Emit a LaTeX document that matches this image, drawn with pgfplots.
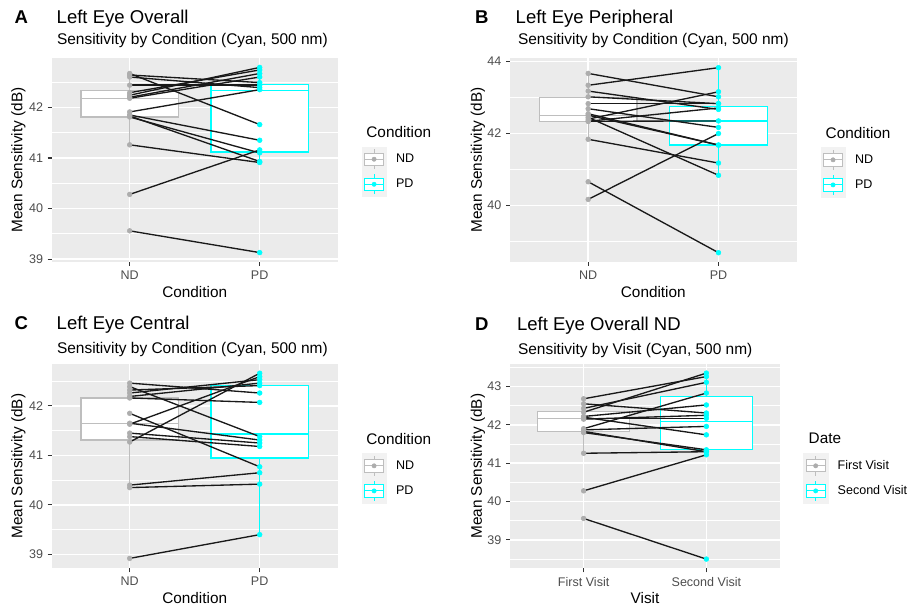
\documentclass[border=0pt]{standalone}
\usepackage{fontspec}
\setmainfont{Liberation Sans}
\usepackage{pgfplots}
\usepackage{pgfplotstable}
\pgfplotsset{compat=1.18}

\definecolor{ggbg}{HTML}{EBEBEB}
\definecolor{ndgrey}{HTML}{BEBEBE}
\definecolor{ndpt}{HTML}{ADADAD}
\definecolor{pdcyan}{HTML}{00FFFF}
\definecolor{tickgrey}{HTML}{4D4D4D}
\definecolor{keybg}{HTML}{F2F2F2}

% paired values, one row per subject
\pgfplotstableread{
nd pd
42.67 41.66
42.64 42.49
42.60 42.39
42.44 42.44
42.29 42.74
42.24 42.79
42.20 42.67
42.18 42.60
41.91 42.35
41.85 41.35
41.83 40.93
41.81 41.10
41.26 40.91
40.28 41.16
39.56 39.13
}\tblA

\pgfplotstableread{
nd pd
43.67 43.02
43.34 43.83
43.18 42.67
43.02 42.83
42.83 42.83
42.69 42.17
42.55 41.68
42.51 41.68
42.45 40.84
42.40 43.16
42.34 42.35
42.34 42.71
41.84 41.18
40.66 38.69
40.17 42.00
}\tblB

\pgfplotstableread{
nd pd
42.46 42.26
42.39 41.38
42.32 42.41
42.26 42.53
42.19 42.46
42.16 42.07
41.85 40.77
41.63 42.59
41.65 41.31
41.27 42.66
41.45 41.25
41.38 41.18
40.40 40.65
40.35 40.42
38.92 39.40
}\tblC

\pgfplotstableread{
nd pd
42.68 43.26
42.55 42.31
42.43 43.11
42.33 43.35
42.22 42.52
42.17 42.17
42.20 41.74
42.15 42.25
41.90 42.83
41.87 41.96
41.83 41.30
41.80 41.35
41.26 41.30
40.28 41.22
39.56 38.50
}\tblD

\newcommand{\keyglyph}[2]{%
  \fill[keybg] (0pt,-9.2pt) rectangle (18.2pt,9.2pt);
  \draw[#1, line width=0.7pt] (9.1pt,-7.4pt) -- (9.1pt,7.4pt);
  \filldraw[draw=#1, fill=white, line width=0.7pt] (1.9pt,-4.6pt) rectangle (16.3pt,4.6pt);
  \draw[#1, line width=0.7pt] (1.9pt,0pt) -- (16.3pt,0pt);
  \fill[#2] (9.1pt,0pt) circle (1.6pt);
}

% box: left, centre, right, lower whisker, q1, median, q3, upper whisker, colour
\newcommand{\ggbox}[9]{%
  \addplot[#9, line width=1pt, forget plot, unbounded coords=jump]
    coordinates {(#2,#4) (#2,#5) (#2,nan) (#2,#7) (#2,#8)};
  \addplot[draw=#9, fill=white, line width=1pt, forget plot]
    coordinates {(#1,#5) (#3,#5) (#3,#7) (#1,#7)} -- cycle;
  \addplot[#9, line width=1pt, forget plot] coordinates {(#1,#6) (#3,#6)};
}

\pgfplotsset{
  ggpanel/.style={
    scale only axis,
    axis background/.style={fill=ggbg},
    axis line style={draw=none},
    xmin=0.4, xmax=2.6,
    xtick={1,2},
    ymajorgrids, yminorgrids, xmajorgrids,
    major grid style={white, line width=1.1pt},
    minor grid style={white, line width=0.55pt},
    tick align=outside, tick pos=left,
    major tick length=3pt, minor tick length=0pt,
    tick style={color=black!80, line width=0.8pt},
    ticklabel style={font=\fontsize{9.4}{11}\selectfont, text=tickgrey},
    /pgf/number format/assume math mode=true,
    legend style={anchor=north west, draw=none, fill=none,
      inner sep=0pt, outer sep=0pt, row sep=0pt,
      font=\fontsize{9.4}{11}\selectfont,
      nodes={inner sep=0pt, anchor=west, text=black},
      /tikz/every odd column/.append style={column sep=7.2pt}},
  },
  ndpts/.style={only marks, mark=*, mark size=1.8pt, mark options={draw=ndpt, fill=ndpt}, forget plot},
  pdpts/.style={only marks, mark=*, mark size=1.8pt, mark options={draw=pdcyan, fill=pdcyan}, forget plot},
  pairs/.style={black!90, line width=1pt, forget plot,
    quiver={u=1, v=\thisrow{pd}-\thisrow{nd}}},
}

\begin{document}
\begin{tikzpicture}
\path[use as bounding box] (0pt,0pt) rectangle (680.25pt,457.5pt);

% ---------- A ----------
\begin{axis}[ggpanel, at={(38.775pt,261.225pt)}, anchor=south west,
  width=214.5pt, height=152.55pt,
  ymin=38.95, ymax=42.97,
  ytick={39,40,41,42}, minor ytick={39.5,40.5,41.5,42.5},
  xticklabels={ND,PD},
  legend style={at={(1.0839,0.5654)}}]
\ggbox{0.625}{1}{1.375}{41.26}{41.81}{42.17}{42.34}{42.67}{ndgrey}
\ggbox{1.625}{2}{2.375}{40.91}{41.12}{42.34}{42.45}{42.79}{pdcyan}
\addplot[ndpts] table[x expr=1, y=nd] {\tblA};
\addplot[pdpts] table[x expr=2, y=pd] {\tblA};
\addplot[pairs] table[x expr=1, y=nd] {\tblA};
\addlegendimage{legend image code/.code={\keyglyph{ndgrey}{ndpt}}}
\addlegendentry{ND}
\addlegendimage{legend image code/.code={\keyglyph{pdcyan}{pdcyan}}}
\addlegendentry{PD}
\end{axis}

% ---------- B ----------
\begin{axis}[ggpanel, at={(382.5pt,261.225pt)}, anchor=south west,
  width=215pt, height=152.55pt,
  ymin=38.44, ymax=44.09,
  ytick={40,42,44}, minor ytick={39,41,43},
  xticklabels={ND,PD},
  legend style={at={(1.0837,0.5624)}}]
\ggbox{0.625}{1}{1.375}{41.84}{42.34}{42.51}{43.00}{43.67}{ndgrey}
\ggbox{1.625}{2}{2.375}{40.84}{41.68}{42.35}{42.76}{43.83}{pdcyan}
\addplot[ndpts] table[x expr=1, y=nd] {\tblB};
\addplot[pdpts] table[x expr=2, y=pd] {\tblB};
\addplot[pairs] table[x expr=1, y=nd] {\tblB};
\addlegendimage{legend image code/.code={\keyglyph{ndgrey}{ndpt}}}
\addlegendentry{ND}
\addlegendimage{legend image code/.code={\keyglyph{pdcyan}{pdcyan}}}
\addlegendentry{PD}
\end{axis}

% ---------- C ----------
\begin{axis}[ggpanel, at={(38.775pt,31.275pt)}, anchor=south west,
  width=214.5pt, height=153pt,
  ymin=38.72, ymax=42.84,
  ytick={39,40,41,42}, minor ytick={39.5,40.5,41.5,42.5},
  xticklabels={ND,PD},
  legend style={at={(1.0839,0.5637)}}]
\ggbox{0.625}{1}{1.375}{40.35}{41.31}{41.65}{42.16}{42.46}{ndgrey}
\ggbox{1.625}{2}{2.375}{39.40}{40.95}{41.43}{42.41}{42.66}{pdcyan}
\addplot[ndpts] table[x expr=1, y=nd] {\tblC};
\addplot[pdpts] table[x expr=2, y=pd] {\tblC};
\addplot[pairs] table[x expr=1, y=nd] {\tblC};
\addlegendimage{legend image code/.code={\keyglyph{ndgrey}{ndpt}}}
\addlegendentry{ND}
\addlegendimage{legend image code/.code={\keyglyph{pdcyan}{pdcyan}}}
\addlegendentry{PD}
\end{axis}

% ---------- D ----------
\begin{axis}[ggpanel, at={(382.5pt,31.275pt)}, anchor=south west,
  width=202.5pt, height=153pt,
  ymin=38.26, ymax=43.58,
  ytick={39,40,41,42,43}, minor ytick={38.5,39.5,40.5,41.5,42.5,43.5},
  xticklabels={First Visit,Second Visit},
  legend style={at={(1.0863,0.5637)}}]
\ggbox{0.625}{1}{1.375}{41.26}{41.83}{42.16}{42.35}{42.68}{ndgrey}
\ggbox{1.625}{2}{2.375}{41.22}{41.35}{42.09}{42.74}{43.35}{pdcyan}
\addplot[ndpts] table[x expr=1, y=nd] {\tblD};
\addplot[pdpts] table[x expr=2, y=pd] {\tblD};
\addplot[pairs] table[x expr=1, y=nd] {\tblD};
\addlegendimage{legend image code/.code={\keyglyph{ndgrey}{ndpt}}}
\addlegendentry{First Visit}
\addlegendimage{legend image code/.code={\keyglyph{pdcyan}{pdcyan}}}
\addlegendentry{Second Visit}
\end{axis}

% titles and labels, placed in reference pixels
\begin{scope}[x=0.75pt, y=0.75pt]
\tikzset{tag/.style={anchor=base west, font=\bfseries\fontsize{13.9}{16}\selectfont},
  ttl/.style={anchor=base west, font=\fontsize{13.9}{16}\selectfont},
  sub/.style={anchor=base west, font=\fontsize{11.6}{14}\selectfont},
  lab/.style={font=\fontsize{11.5}{14}\selectfont}}

\node[tag] at (10,586) {A};
\node[ttl] at (52,586) {Left Eye Overall};
\node[sub] at (52.3,565.7) {Sensitivity by Condition (Cyan, 500 nm)};
\node[tag] at (470.5,586) {B};
\node[ttl] at (511,586) {Left Eye Peripheral};
\node[sub] at (513.3,565.7) {Sensitivity by Condition (Cyan, 500 nm)};
\node[tag] at (10,280) {C};
\node[ttl] at (52,280) {Left Eye Central};
\node[sub] at (52.3,256) {Sensitivity by Condition (Cyan, 500 nm)};
\node[tag] at (470.5,279) {D};
\node[ttl] at (512.3,279) {Left Eye Overall ND};
\node[sub] at (513.3,255.7) {Sensitivity by Visit (Cyan, 500 nm)};

\node[lab, rotate=90] at (18.3,450) {Mean Sensitivity (dB)};
\node[lab, rotate=90] at (478,450) {Mean Sensitivity (dB)};
\node[lab, rotate=90] at (18.3,143.7) {Mean Sensitivity (dB)};
\node[lab, rotate=90] at (478,143.7) {Mean Sensitivity (dB)};

\node[lab, anchor=base] at (194.7,312.5) {Condition};
\node[lab, anchor=base] at (653.3,312.3) {Condition};
\node[lab, anchor=base] at (194.7,6) {Condition};
\node[lab, anchor=base] at (645,6) {Visit};

\node[lab, anchor=base west] at (361.7,472.3) {Condition};
\node[lab, anchor=base west] at (821,471.7) {Condition};
\node[lab, anchor=base west] at (361.7,165.7) {Condition};
\node[lab, anchor=base west] at (804,166) {Date};
\end{scope}
\end{tikzpicture}
\end{document}
